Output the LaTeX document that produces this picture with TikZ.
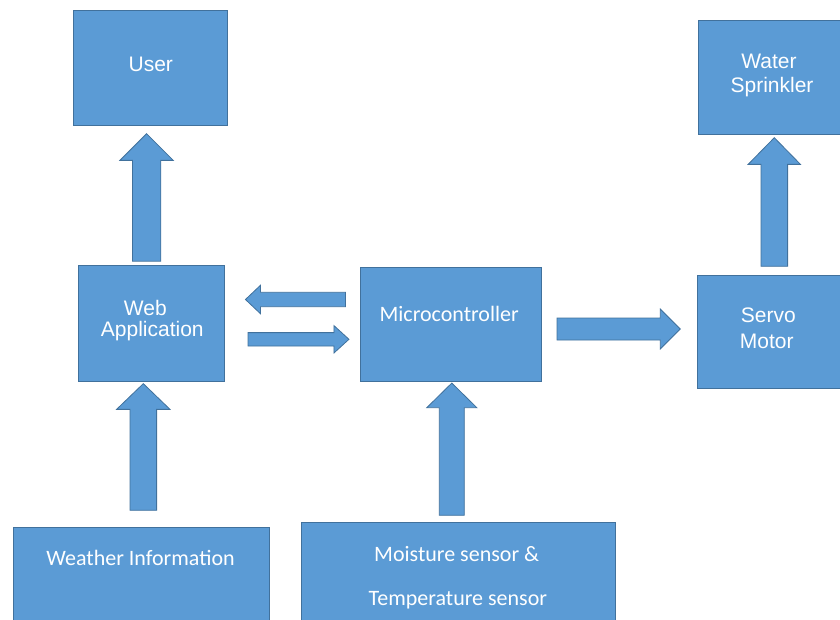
\documentclass[tikz,border=0pt]{standalone}
\usepackage{fontspec}
\setmainfont{Liberation Sans}
\newfontfamily\calibri{Carlito}
\usetikzlibrary{calc}
\definecolor{boxfill}{HTML}{5B9BD5}
\definecolor{boxline}{HTML}{41719C}
\newcommand\blockarrow[5]{%
  \path ($(#2)!#5!(#1)$) coordinate (hb);
  \filldraw[blk] ($(#1)!#3!90:(#2)$) -- ($(hb)!#3!90:(#2)$) -- ($(hb)!#4!90:(#2)$) -- (#2)
    -- ($(hb)!#4!-90:(#2)$) -- ($(hb)!#3!-90:(#2)$) -- ($(#1)!#3!-90:(#2)$) -- cycle;}
\begin{document}
\begin{tikzpicture}[x=1pt,y=-1pt,
  box/.style={rectangle, fill=boxfill, draw=boxline, line width=0.8pt, inner sep=0pt},
  arial/.style={text=white, font=\fontsize{21}{22}\selectfont, anchor=base, inner sep=0pt},
  cal/.style={text=white, font=\calibri\fontsize{22}{26}\selectfont, anchor=base, inner sep=0pt},
  blk/.style={fill=boxfill, draw=boxline, line width=0.8pt, line join=miter}]
\useasboundingbox (0,0) rectangle (840,620);
\begin{scope}
\clip (0,0) rectangle (840,620);
% boxes
\node[box, minimum width=154pt, minimum height=115pt] (user) at (150.3,67.8) {};
\node[box, minimum width=146pt, minimum height=114pt] (sprinkler) at (771.3,77) {};
\node[box, minimum width=145.7pt, minimum height=116.7pt] (web) at (151.2,323.3) {};
\node[box, minimum width=181.7pt, minimum height=114.7pt] (micro) at (450.8,324.3) {};
\node[box, minimum width=147pt, minimum height=113pt] (servo) at (770.8,331.5) {};
\node[box, minimum width=255.7pt, minimum height=102.7pt] (weather) at (141.2,578.6) {};
\node[box, minimum width=314pt, minimum height=107.3pt] (sensors) at (458,576.3) {};
% texts
\node[arial] (tuser) at (150.8,71.7) {User};
\node[arial] (twater) at (769,68.3) {Water};
\node[arial] (tsprink) at (772,92.7) {Sprinkler};
\node[arial] (tweb) at (145.3,315) {Web};
\node[arial] (tapp) at (152.3,336.7) {Application};
\node[cal] (tmicro) at (449.2,321) {Microcontroller};
\node[arial] (tservo) at (768.3,322.3) {Servo};
\node[arial] (tmotor) at (766.7,348.3) {Motor};
\node[cal] (tweather) at (140.5,565) {Weather Information};
\node[cal] (tmoist) at (456.7,561.7) {Moisture sensor \&};
\node[cal] (ttemp) at (457.8,605) {Temperature sensor};
% arrow end points
\coordinate (a1s) at ($(web.north)+(-4.6,-3.3)$);
\coordinate (a1x) at ($(user.south)+(-3.6,8)$);
\coordinate (a1e) at (a1s |- a1x);
\coordinate (a2s) at ($(weather.north)+(2.1,-16.6)$);
\coordinate (a2x) at ($(web.south)+(-7.9,1.6)$);
\coordinate (a2e) at (a2s |- a2x);
\coordinate (a3s) at ($(micro.west)+(-14,-24.8)$);
\coordinate (a3x) at ($(web.east)+(21,0)$);
\coordinate (a3e) at (a3x |- a3s);
\coordinate (a4s) at ($(web.east)+(23.6,16)$);
\coordinate (a4x) at ($(micro.west)+(-10.6,0)$);
\coordinate (a4e) at (a4x |- a4s);
\coordinate (a5s) at ($(micro.east)+(15,4.7)$);
\coordinate (a5x) at ($(servo.west)+(-16.6,0)$);
\coordinate (a5e) at (a5x |- a5s);
\coordinate (a6s) at ($(sensors.north)+(-6.2,-7)$);
\coordinate (a6x) at ($(micro.south)+(1,1)$);
\coordinate (a6e) at (a6s |- a6x);
\coordinate (a7s) at ($(servo.north)+(3.5,-8.3)$);
\coordinate (a7x) at ($(sprinkler.south)+(3,3.3)$);
\coordinate (a7e) at (a7s |- a7x);
% block arrows
\blockarrow{a1s}{a1e}{14.2pt}{26.7pt}{26.7pt}
\blockarrow{a2s}{a2e}{13.3pt}{26.7pt}{25.7pt}
\blockarrow{a3s}{a3e}{7.2pt}{14.2pt}{15pt}
\blockarrow{a4s}{a4e}{6.7pt}{13.7pt}{15pt}
\blockarrow{a5s}{a5e}{11pt}{20pt}{20pt}
\blockarrow{a6s}{a6e}{12.5pt}{25pt}{24.6pt}
\blockarrow{a7s}{a7e}{13.3pt}{26.2pt}{26.7pt}
\end{scope}
\end{tikzpicture}
\end{document}
